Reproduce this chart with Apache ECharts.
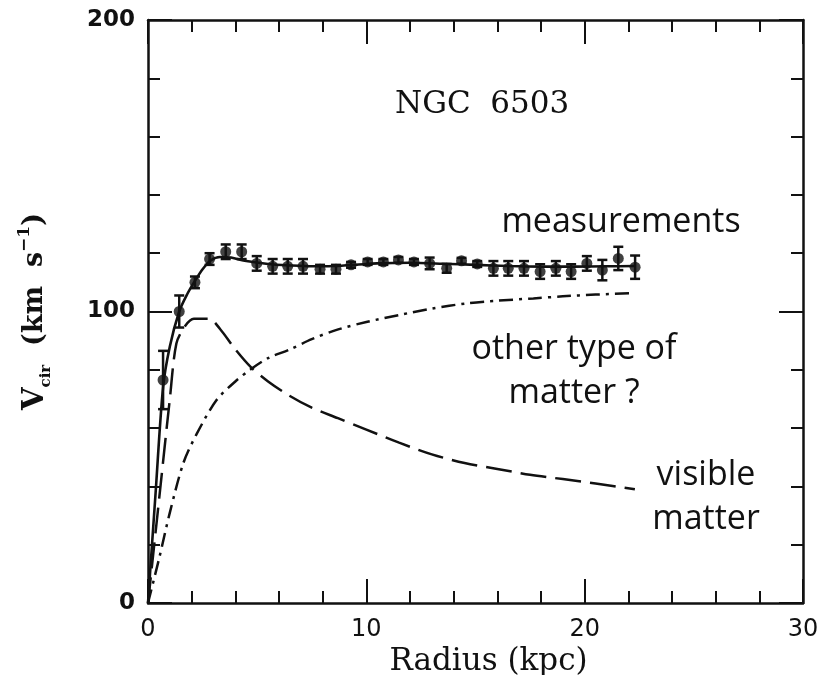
<!DOCTYPE html>
<html>
<head>
<meta charset="utf-8">
<script src="https://cdn.jsdelivr.net/npm/echarts@6.0.0/dist/echarts.min.js"></script>
<style>html,body{margin:0;padding:0;background:#fff}#chart{width:837px;height:675px}</style>
</head>
<body>
<div id="chart"></div>
<script>
// measured rotation curve (kpc, km/s)
const radius = [0.69,1.43,2.15,2.82,3.56,4.29,4.98,5.71,6.4,7.1,7.88,8.61,9.3,10.06,10.78,11.47,12.18,12.9,13.68,14.36,15.08,15.82,16.5,17.22,17.96,18.68,19.38,20.1,20.81,21.54,22.31];
const velocity = [76.5,100,110,118,120.5,120.5,116.5,115.5,115.5,115.5,114.5,114.5,116,117,117,117.7,117,116.5,114.8,117.4,116.3,114.8,114.8,114.8,113.7,114.8,113.7,116.5,114.2,118.2,115.2];
const error = [10,5.5,2,2,2.5,2.5,2.5,2.5,2.5,2.5,1.5,1.5,1,1,1,1,1,2,1.5,1,1,2.5,2.5,2.5,2.5,2.5,2.5,2.5,3.5,4,4];

// total fit
const fitR = [0,0.35,0.69,1.0,1.43,1.8,2.15,2.5,2.87,3.3,3.8,4.5,5.5,6.5,7.5,8.5,9.5,10.5,12,13.5,15,16.5,18,19.5,21,22.3];
const fitV = [0,38,74,88,100,106,110.5,114.5,117.5,118.7,118.5,117.3,116.3,115.8,115.5,115.6,116,116.5,116.7,116.4,116,115.6,115.4,115.4,115.5,115.6];

// visible matter (disk)
const diskR = [0,0.5,1.0,1.3,1.7,2.1,2.8,3.3,4.0,4.7,5.5,6.5,7.5,8.7,10,11.5,13,14.5,16,17.5,19,20.5,22.3];
const diskV = [0,35,70,89,95,97.5,97.5,94,87,81,76,71,67,63.4,59.5,55,51,48,46,44,42.5,41,39];

// dark halo
const haloR = [0,0.5,1.0,1.62,2.23,3.14,4,4.67,5.5,6.5,7.5,8.64,10,11.5,13,14.6,16,17.65,19,20.5,22.3];
const haloV = [0,15,31,48,58,69.6,76,80,84,87,90.5,93.7,96.4,98.8,101,102.8,103.7,104.5,105.2,105.8,106.3];

const pairs = (xs, ys) => xs.map((x, i) => [x, ys[i]]);

var chart = echarts.init(document.getElementById('chart'));

var frameAxis = {
  axisLine: { show: true, onZero: false, lineStyle: { color: '#111', width: 2.5 } },
  axisTick: { show: true, inside: true, length: 24, lineStyle: { color: '#111', width: 2 } },
  minorTick: { show: true, splitNumber: 5, length: 12, lineStyle: { color: '#111', width: 2 } },
  splitLine: { show: false }
};

var option = {
  animation: false,
  backgroundColor: '#fff',
  title: {
    text: 'NGC  6503',
    left: 390,
    top: 84,
    textStyle: { fontFamily: 'DejaVu Serif', fontSize: 31, fontWeight: 'normal', color: '#111' }
  },
  grid: { left: 148, right: 34, top: 20, bottom: 72, outerBoundsMode: 'none' },
  xAxis: [
    Object.assign({
      type: 'value', position: 'bottom', min: 0, max: 30, interval: 10,
      name: 'Radius (kpc)', nameLocation: 'middle', nameGap: 38,
      nameTextStyle: { fontFamily: 'DejaVu Serif', fontSize: 31, color: '#111', padding: [0, 0, 0, 26] },
      axisLabel: { fontFamily: 'DejaVu Sans', fontSize: 24, color: '#111', margin: 15 }
    }, frameAxis),
    Object.assign({
      type: 'value', position: 'top', min: 0, max: 30, interval: 10,
      axisLabel: { show: false }
    }, frameAxis)
  ],
  yAxis: [
    Object.assign({
      type: 'value', position: 'left', min: 0, max: 200, interval: 100,
      name: '{v|V}{sub|cir}{t|  (km  s}{sup|−1}{t|)}',
      nameLocation: 'middle', nameGap: 94,
      nameTextStyle: {
        fontFamily: 'DejaVu Serif', fontWeight: 'bold', color: '#111',
        rich: {
          v: { fontFamily: 'DejaVu Serif', fontWeight: 'bold', fontSize: 29, color: '#111', lineHeight: 38 },
          t: { fontFamily: 'DejaVu Serif', fontWeight: 'bold', fontSize: 27, color: '#111', lineHeight: 38 },
          sub: { fontFamily: 'DejaVu Serif', fontWeight: 'bold', fontSize: 15, color: '#111', verticalAlign: 'bottom', lineHeight: 38 },
          sup: { fontFamily: 'DejaVu Serif', fontWeight: 'bold', fontSize: 17, color: '#111', verticalAlign: 'top', lineHeight: 38 }
        }
      },
      axisLabel: { fontFamily: 'DejaVu Sans', fontWeight: 'bold', fontSize: 23, color: '#111', margin: 13 }
    }, frameAxis),
    Object.assign({
      type: 'value', position: 'right', min: 0, max: 200, interval: 100,
      axisLabel: { show: false }
    }, frameAxis)
  ],
  graphic: [
    { type: 'text', x: 621, y: 222, style: { text: 'measurements', font: '34px "Open Sans"', fill: '#111', align: 'center', verticalAlign: 'middle' } },
    { type: 'text', x: 574, y: 371, style: { text: 'other type of\nmatter ?', font: '34px "Open Sans"', lineHeight: 44, fill: '#111', align: 'center', verticalAlign: 'middle' } },
    { type: 'text', x: 706, y: 497, style: { text: 'visible\nmatter', font: '34px "Open Sans"', lineHeight: 44, fill: '#111', align: 'center', verticalAlign: 'middle' } }
  ],
  series: [
    {
      name: 'halo', type: 'line', data: pairs(haloR, haloV), showSymbol: false, smooth: 0.3,
      lineStyle: { color: '#111', width: 2.5, type: [14, 6, 3, 6] }
    },
    {
      name: 'disk', type: 'line', data: pairs(diskR, diskV), showSymbol: false, smooth: 0.3,
      lineStyle: { color: '#111', width: 2.5, type: [26, 9] }
    },
    {
      name: 'fit', type: 'line', data: pairs(fitR, fitV), showSymbol: false, smooth: 0.3,
      lineStyle: { color: '#111', width: 2.6 }
    },
    {
      name: 'errors', type: 'custom',
      data: radius.map((r, i) => [r, velocity[i] - error[i], velocity[i] + error[i]]),
      encode: { x: 0, y: [1, 2] },
      renderItem: function (params, api) {
        var top = api.coord([api.value(0), api.value(2)]);
        var bot = api.coord([api.value(0), api.value(1)]);
        var w = 5;
        var st = { stroke: '#111', lineWidth: 2.5 };
        return {
          type: 'group',
          children: [
            { type: 'line', shape: { x1: top[0], y1: top[1], x2: bot[0], y2: bot[1] }, style: st },
            { type: 'line', shape: { x1: top[0] - w, y1: top[1], x2: top[0] + w, y2: top[1] }, style: st },
            { type: 'line', shape: { x1: bot[0] - w, y1: bot[1], x2: bot[0] + w, y2: bot[1] }, style: st }
          ]
        };
      }
    },
    {
      name: 'measurements', type: 'scatter', data: pairs(radius, velocity),
      symbol: 'circle', symbolSize: 11, itemStyle: { color: '#111' }
    }
  ]
};

chart.setOption(option);
</script>
</body>
</html>
